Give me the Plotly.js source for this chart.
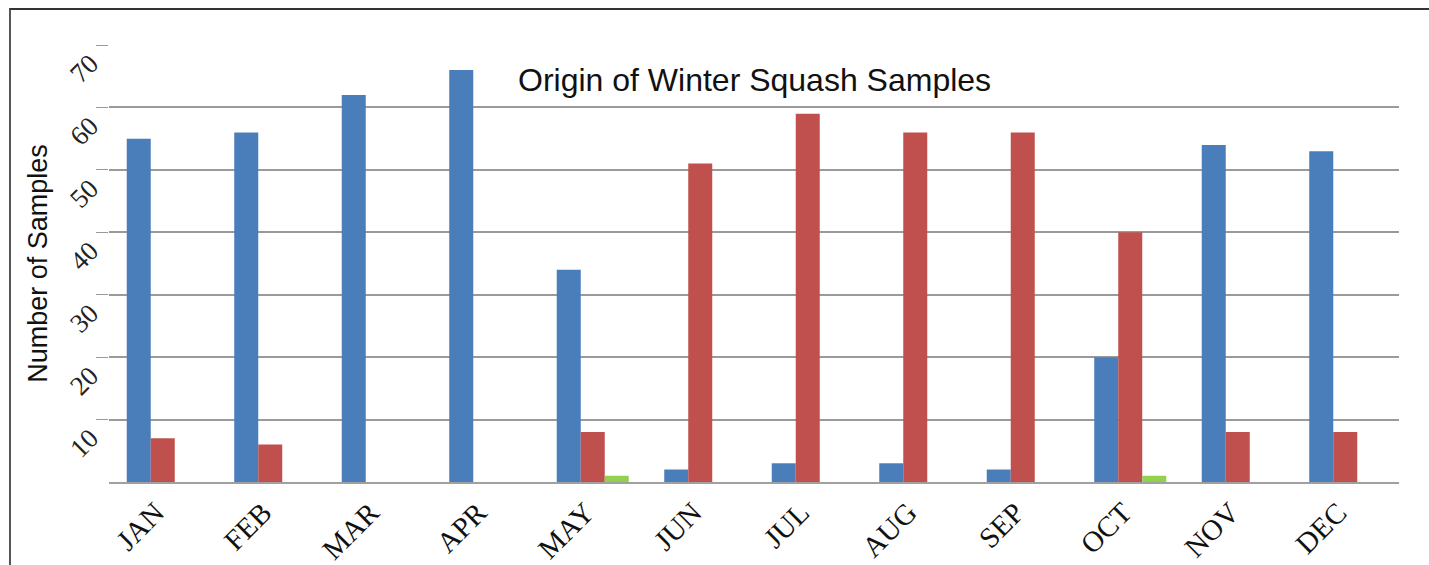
<!DOCTYPE html>
<html>
<head>
<meta charset="utf-8">
<script src="https://cdn.plot.ly/plotly-3.0.1.min.js"></script>
<style>
  body { margin: 0; background: #fff; }
  #wrap { position: relative; width: 1429px; height: 565px; }
  #chart { position: absolute; left: 0; top: 0; width: 1429px; height: 565px; }
  #frame { position: absolute; left: 9px; top: 8px; width: 1430px; height: 570px;
           border-left: 2px solid #555; border-top: 2px solid #333; pointer-events: none; }
</style>
</head>
<body>
<div id="wrap">
  <div id="chart"></div>
  <div id="frame"></div>
</div>
<script>
const months = ['JAN', 'FEB', 'MAR', 'APR', 'MAY', 'JUN', 'JUL', 'AUG', 'SEP', 'OCT', 'NOV', 'DEC'];
const blueVals = [55, 56, 62, 66, 34, 2, 3, 3, 2, 20, 54, 53];
const redVals = [7, 6, 0, 0, 8, 51, 59, 56, 56, 40, 8, 8];
const greenVals = [0, 0, 0, 0, 1, 0, 0, 0, 0, 1, 0, 0];
const yTicks = [10, 20, 30, 40, 50, 60, 70];

function series(vals, color) {
  return {
    x: months,
    y: vals,
    type: 'bar',
    marker: { color: color, line: { width: 0 } },
    hoverinfo: 'x+y'
  };
}

const traces = [
  series(blueVals, '#4a7ebb'),
  series(redVals, '#c0504d'),
  series(greenVals, '#92d050')
];

const serif = 'Liberation Serif, Times New Roman, serif';
const sans = 'Liberation Sans, Arial, sans-serif';

const layout = {
  width: 1429,
  height: 565,
  margin: { l: 109, r: 30, t: 45, b: 83 },
  paper_bgcolor: '#fff',
  plot_bgcolor: '#fff',
  showlegend: false,
  barmode: 'group',
  bargap: 0.33,
  bargroupgap: 0,
  xaxis: {
    tickangle: -45,
    tickfont: { family: serif, size: 29, color: '#111' },
    ticklabelshift: -7,
    showline: true,
    linecolor: '#a0a0a0',
    linewidth: 2,
    ticks: '',
    showgrid: false
  },
  yaxis: {
    range: [0, 70],
    tickvals: yTicks,
    ticktext: yTicks.map(String),
    tickangle: -45,
    tickfont: { family: serif, size: 27, color: '#222' },
    ticklabelshift: 15,
    ticks: 'outside',
    ticklen: 12,
    tickcolor: '#999',
    gridcolor: '#9a9a9a',
    gridwidth: 1.5,
    zeroline: false,
    showline: false,
    title: { text: 'Number of Samples', font: { family: sans, size: 27, color: '#111' }, standoff: 8 }
  },
  annotations: [{
    text: 'Origin of Winter Squash Samples',
    xref: 'paper', yref: 'paper',
    x: 0.5, y: 0.92,
    xanchor: 'center', yanchor: 'middle',
    showarrow: false,
    font: { family: sans, size: 32, color: '#111' }
  }]
};

Plotly.newPlot('chart', traces, layout, { displayModeBar: false });
</script>
</body>
</html>
